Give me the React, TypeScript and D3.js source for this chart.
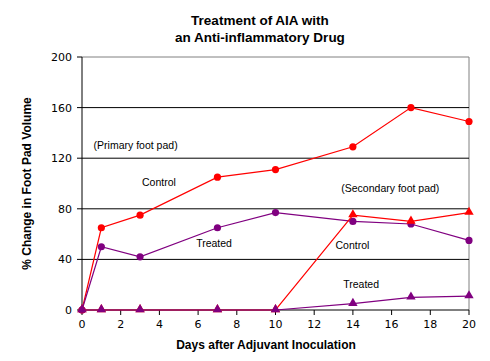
import React from 'react';
import * as d3 from 'd3';

const days = [0, 1, 3, 7, 10, 14, 17, 20];
const primaryControl = [0, 65, 75, 105, 111, 129, 160, 149];
const primaryTreated = [0, 50, 42, 65, 77, 70, 68, 55];
const secondaryControl = [0, 0, 0, 0, 0, 75, 70, 77];
const secondaryTreated = [0, 0, 0, 0, 0, 5, 10, 11];
const xTicks = [0, 2, 4, 6, 8, 10, 12, 14, 16, 18, 20];
const yTicks = [0, 40, 80, 120, 160, 200];

const series = [
  { name: 'Primary Control', values: primaryControl, color: '#FF0000', shape: 'circle' },
  { name: 'Primary Treated', values: primaryTreated, color: '#800080', shape: 'circle' },
  { name: 'Secondary Control', values: secondaryControl, color: '#FF0000', shape: 'triangle' },
  { name: 'Secondary Treated', values: secondaryTreated, color: '#800080', shape: 'triangle' },
];

const annotations = [
  { text: '(Primary foot pad)', day: 0.6, val: 127 },
  { text: 'Control', day: 3.1, val: 98 },
  { text: '(Secondary foot pad)', day: 13.4, val: 93 },
  { text: 'Treated', day: 5.9, val: 50 },
  { text: 'Control', day: 13.1, val: 48 },
  { text: 'Treated', day: 13.5, val: 17 },
];

export default function App() {
  const width = 490;
  const height = 361;
  const m = { left: 82, right: 21, top: 57, bottom: 51 };

  const x = d3.scaleLinear().domain([0, 20]).range([m.left, width - m.right]);
  const y = d3.scaleLinear().domain([0, 200]).range([height - m.bottom, m.top]);

  const line = d3.line<number>()
    .x((_, i) => x(days[i]))
    .y((d) => y(d));

  const tri = d3.symbol().type(d3.symbolTriangle).size(38)();
  const font = 'Verdana, "DejaVu Sans", sans-serif';
  const arial = '"Liberation Sans", Arial, sans-serif';

  return (
    <svg width={width} height={height} style={{ position: 'absolute', left: 0, top: 0, background: '#fff' }}>
      <text x={260} y={25} textAnchor="middle" fontFamily={arial} fontWeight="bold" fontSize={13.5}>
        Treatment of AIA with
      </text>
      <text x={260} y={42} textAnchor="middle" fontFamily={arial} fontWeight="bold" fontSize={13.5}>
        an Anti-inflammatory Drug
      </text>

      {/* plot frame */}
      <line x1={x(0)} x2={x(20)} y1={y(200)} y2={y(200)} stroke="#808080" />
      <line x1={x(20)} x2={x(20)} y1={y(200)} y2={y(0)} stroke="#808080" />

      {yTicks.filter((t) => t > 0 && t < 200).map((t) => (
        <line key={t} x1={x(0)} x2={x(20)} y1={y(t)} y2={y(t)} stroke="#000" />
      ))}

      {/* y axis */}
      <line x1={x(0)} x2={x(0)} y1={y(0)} y2={y(200)} stroke="#000" />
      {yTicks.map((t) => (
        <g key={t}>
          <line x1={x(0) - 5} x2={x(0)} y1={y(t)} y2={y(t)} stroke="#000" />
          <text x={x(0) - 10} y={y(t) + 4} textAnchor="end" fontFamily={font} fontSize={11}>
            {t}
          </text>
        </g>
      ))}

      {/* x axis */}
      <line x1={x(0)} x2={x(20)} y1={y(0)} y2={y(0)} stroke="#000" />
      {xTicks.map((t) => (
        <g key={t}>
          <line x1={x(t)} x2={x(t)} y1={y(0)} y2={y(0) + 5} stroke="#000" />
          <text x={x(t)} y={y(0) + 18} textAnchor="middle" fontFamily={font} fontSize={11}>
            {t}
          </text>
        </g>
      ))}

      <text x={266} y={349} textAnchor="middle" fontFamily={arial} fontWeight="bold" fontSize={12}>
        Days after Adjuvant  Inoculation
      </text>
      <text
        transform={`translate(31,${(y(0) + y(200)) / 2}) rotate(-90)`}
        textAnchor="middle"
        fontFamily={arial}
        fontWeight="bold"
        fontSize={12}
      >
        % Change in Foot  Pad Volume
      </text>

      {series.map((s) => (
        <g key={s.name}>
          <path d={line(s.values) || ''} fill="none" stroke={s.color} strokeWidth={1.2} />
          {s.values.map((v, i) =>
            s.shape === 'circle' ? (
              <circle key={i} cx={x(days[i])} cy={y(v)} r={3.6} fill={s.color} />
            ) : (
              <path key={i} d={tri || ''} transform={`translate(${x(days[i])},${y(v) - 0.5})`} fill={s.color} />
            )
          )}
        </g>
      ))}

      {annotations.map((a, i) => (
        <text key={i} x={x(a.day)} y={y(a.val)} fontFamily={arial} fontSize={10.5}>
          {a.text}
        </text>
      ))}
    </svg>
  );
}
